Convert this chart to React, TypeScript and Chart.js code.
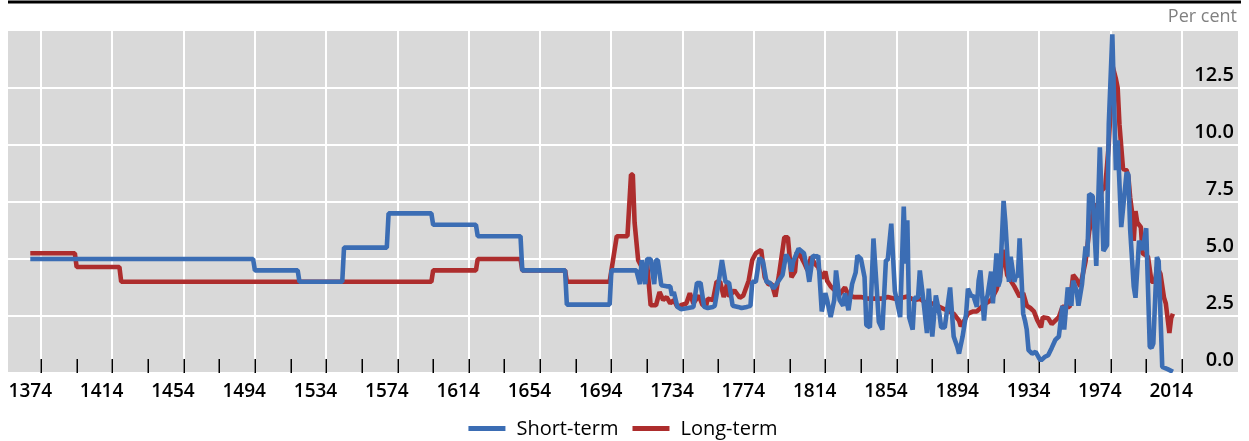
import React, { useEffect, useRef } from "react";
import { Chart, registerables } from "chart.js";

Chart.register(...registerables);

// ---------- Data ----------
const seriesLabels = ["Short-term", "Long-term"];
const unitLabel = "Per cent";

const shortYears = [
  1374, 1499, 1500, 1524, 1525, 1549, 1550, 1574, 1575, 1599,
  1600, 1624, 1625, 1649, 1650, 1674, 1675, 1699, 1700, 1714,
  1716, 1717, 1719, 1720, 1722, 1724, 1725, 1726, 1728, 1731,
  1733, 1734, 1735, 1737, 1739, 1743, 1746, 1748, 1750, 1752,
  1754, 1757, 1758, 1760, 1762, 1764, 1766, 1768, 1771, 1773,
  1776, 1778, 1779, 1781, 1783, 1785, 1787, 1789, 1791, 1793,
  1796, 1798, 1800, 1801, 1802, 1805, 1808, 1810, 1811, 1813,
  1815, 1816, 1818, 1820, 1821, 1823, 1825, 1826, 1828, 1830,
  1831, 1833, 1835, 1837, 1838, 1840, 1842, 1843, 1845, 1847,
  1849, 1850, 1852, 1854, 1855, 1857, 1859, 1862, 1864, 1865,
  1866, 1867, 1869, 1870, 1872, 1873, 1875, 1877, 1878, 1880,
  1882, 1884, 1885, 1887, 1890, 1892, 1894, 1895, 1897, 1899,
  1900, 1902, 1903, 1905, 1906, 1907, 1909, 1910, 1911, 1913,
  1914, 1916, 1917, 1918, 1920, 1921, 1923, 1924, 1926, 1927,
  1928, 1929, 1931, 1932, 1933, 1934, 1936, 1938, 1940, 1941,
  1943, 1945, 1947, 1949, 1951, 1953, 1954, 1956, 1958, 1959,
  1961, 1962, 1964, 1966, 1967, 1968, 1970, 1972, 1974, 1976,
  1978, 1979, 1981, 1983, 1984, 1986, 1989, 1990, 1991, 1993,
  1994, 1996, 1998, 2000, 2002, 2003, 2004, 2006, 2007, 2009,
  2012, 2015,
];
const shortRates = [
  5.0, 5.0, 4.5, 4.5, 4.0, 4.0, 5.5, 5.5, 7.0, 7.0,
  6.5, 6.5, 6.0, 6.0, 4.5, 4.5, 3.0, 3.0, 4.5, 4.5,
  3.9, 4.95, 3.9, 5.0, 5.0, 3.9, 4.95, 4.95, 3.85, 3.8,
  3.8, 3.4, 3.55, 2.9, 2.8, 2.85, 2.9, 3.95, 3.95, 2.9,
  2.85, 2.9, 2.95, 3.9, 4.95, 4.0, 3.95, 2.95, 2.9, 2.85,
  2.9, 2.95, 4.0, 4.0, 5.05, 4.9, 4.0, 3.95, 3.7, 3.95,
  4.3, 5.2, 4.9, 4.45, 4.9, 5.45, 5.25, 4.5, 4.0, 5.15,
  5.1, 5.15, 2.7, 3.5, 3.2, 2.45, 3.2, 4.5, 3.2, 2.95,
  3.5, 2.75, 3.9, 4.4, 5.15, 5.0, 4.2, 2.1, 2.0, 5.9,
  3.5, 2.25, 1.9, 4.95, 4.95, 6.55, 3.6, 2.45, 7.3, 4.8,
  6.7, 2.45, 1.9, 3.3, 3.3, 4.5, 3.2, 1.75, 3.7, 1.6,
  3.4, 2.6, 2.0, 2.0, 3.75, 1.6, 1.15, 0.85, 1.6, 2.6,
  3.7, 3.35, 3.4, 2.9, 4.05, 4.5, 2.3, 3.2, 3.4, 4.45,
  3.05, 5.25, 3.8, 4.05, 7.55, 6.6, 4.0, 5.1, 4.0, 4.3,
  4.2, 5.9, 2.6, 2.3, 1.9, 1.0, 0.85, 0.93, 0.64, 0.55,
  0.7, 0.78, 1.1, 1.45, 1.6, 2.95, 1.9, 3.75, 2.95, 4.05,
  3.6, 2.95, 3.9, 5.55, 5.1, 7.85, 7.75, 4.7, 9.9, 5.35,
  5.6, 10.9, 14.85, 8.9, 10.2, 6.4, 8.8, 8.7, 6.3, 3.8,
  3.3, 5.8, 5.4, 6.35, 1.15, 1.1, 1.3, 5.08, 4.9, 0.27,
  0.17, 0.05,
];

const longYears = [
  1374, 1399, 1400, 1424, 1425, 1599, 1600, 1624, 1625, 1649,
  1650, 1674, 1675, 1699, 1703, 1709, 1711, 1712, 1713, 1715,
  1718, 1720, 1722, 1725, 1727, 1729, 1731, 1733, 1735, 1737,
  1739, 1742, 1744, 1746, 1749, 1751, 1753, 1754, 1757, 1759,
  1761, 1763, 1765, 1766, 1769, 1772, 1774, 1777, 1779, 1781,
  1784, 1786, 1788, 1790, 1792, 1794, 1797, 1799, 1801, 1803,
  1804, 1806, 1808, 1810, 1812, 1814, 1816, 1818, 1820, 1821,
  1823, 1825, 1828, 1831, 1833, 1836, 1840, 1844, 1848, 1852,
  1855, 1859, 1863, 1866, 1870, 1873, 1876, 1880, 1884, 1888,
  1892, 1895, 1896, 1898, 1900, 1903, 1905, 1909, 1913, 1916,
  1918, 1920, 1922, 1926, 1929, 1931, 1933, 1935, 1937, 1939,
  1941, 1942, 1945, 1947, 1949, 1951, 1953, 1957, 1959, 1961,
  1963, 1966, 1968, 1971, 1973, 1975, 1977, 1979, 1980, 1981,
  1983, 1984, 1985, 1987, 1989, 1990, 1991, 1992, 1993, 1994,
  1995, 1997, 1998, 2001, 2003, 2005, 2006, 2008, 2010, 2011,
  2013, 2014, 2015,
];
const longRates = [
  5.25, 5.25, 4.65, 4.65, 4.0, 4.0, 4.5, 4.5, 5.0, 5.0,
  4.5, 4.5, 4.0, 4.0, 6.0, 6.0, 8.7, 8.7, 6.6, 4.95,
  4.5, 4.8, 2.97, 2.97, 3.55, 3.2, 3.33, 3.05, 3.2, 2.9,
  2.97, 3.05, 3.5, 3.05, 3.4, 3.0, 2.9, 3.26, 3.2, 4.0,
  4.0, 3.33, 3.95, 3.35, 3.63, 3.3, 3.4, 4.05, 4.95, 5.25,
  5.4, 4.2, 3.9, 3.9, 3.35, 4.3, 5.95, 5.95, 4.2, 4.45,
  5.3, 5.15, 4.85, 4.5, 5.1, 4.8, 4.65, 4.15, 4.45, 4.05,
  3.8, 3.65, 3.45, 3.75, 3.4, 3.33, 3.33, 3.26, 3.26, 3.26,
  3.33, 3.26, 3.3, 3.35, 3.2, 3.25, 3.1, 3.05, 2.9, 2.75,
  2.6, 2.3, 2.05, 2.3, 2.6, 2.7, 2.7, 3.0, 3.2, 3.65,
  4.2, 5.4, 4.3, 3.8, 3.35, 3.5, 2.95, 2.85, 2.7, 2.3,
  2.0, 2.45, 2.4, 2.15, 2.3, 2.45, 2.9, 2.9, 4.3, 4.1,
  3.8, 4.9, 6.2, 7.4, 7.2, 8.0, 8.15, 10.0, 11.6, 13.5,
  12.9, 12.5, 10.9, 8.95, 8.9, 8.6, 7.7, 7.1, 5.8, 7.1,
  6.6, 6.4, 5.25, 5.1, 4.0, 4.0, 4.65, 4.35, 3.3, 3.05,
  1.75, 2.4, 2.6,
];

const xTickYears = [1374, 1414, 1454, 1494, 1534, 1574, 1614, 1654, 1694, 1734, 1774, 1814, 1854, 1894, 1934, 1974, 2014];
const yTickValues = [0, 2.5, 5, 7.5, 10, 12.5];

// ---------- Chart ----------
const W = 1249;
const H = 441;
const BLUE = "#3b6db4";
const RED = "#ad2d2d";
const FONT = "'Open Sans', 'Noto Sans', sans-serif";

export default function App() {
  const canvasRef = useRef<HTMLCanvasElement | null>(null);

  useEffect(() => {
    const canvas = canvasRef.current;
    if (!canvas) return;

    const toPoints = (xs: number[], ys: number[]) => xs.map((x, i) => ({ x, y: ys[i] }));

    const decor = {
      id: "decor",
      beforeDraw(chart: any) {
        const { ctx, chartArea: a } = chart;
        const xs = chart.scales.x;
        ctx.save();
        ctx.fillStyle = "#ffffff";
        ctx.fillRect(0, 0, W, H);
        ctx.fillStyle = "#d9d9d9";
        ctx.fillRect(a.left, a.top, a.right - a.left, a.bottom - a.top);
        ctx.fillStyle = "#000000";
        ctx.fillRect(8, 0.5, W - 16, 3);
        ctx.strokeStyle = "#ffffff";
        ctx.lineWidth = 2;
        for (let yr = 1380; yr <= 2020; yr += 40) {
          const px = Math.round(xs.getPixelForValue(yr));
          ctx.beginPath();
          ctx.moveTo(px, a.top);
          ctx.lineTo(px, a.bottom);
          ctx.stroke();
        }
        ctx.restore();
      },
      beforeDatasetsDraw(chart: any) {
        const { ctx, chartArea: a } = chart;
        const xs = chart.scales.x;
        ctx.save();
        ctx.strokeStyle = "#000000";
        ctx.lineWidth = 1.5;
        for (let yr = 1380; yr <= 2020; yr += 20) {
          const px = Math.round(xs.getPixelForValue(yr)) + 0.25;
          ctx.beginPath();
          ctx.moveTo(px, a.bottom - 14);
          ctx.lineTo(px, a.bottom);
          ctx.stroke();
        }
        ctx.restore();
      },
      afterDraw(chart: any) {
        const { ctx, chartArea: a } = chart;
        ctx.save();
        // unit label
        ctx.fillStyle = "#808080";
        ctx.font = `18px ${FONT}`;
        ctx.textAlign = "right";
        ctx.textBaseline = "middle";
        ctx.fillText(unitLabel, a.right - 1, 17);
        // legend
        ctx.font = `20px ${FONT}`;
        ctx.textAlign = "left";
        ctx.textBaseline = "alphabetic";
        const sw = 37;
        const gapText = 11;
        const gapItem = 14;
        const items = chart.data.datasets.map((d: any) => ({
          label: d.label,
          color: d.borderColor,
          w: ctx.measureText(d.label).width,
        }));
        const total =
          items.reduce((s: number, it: any) => s + sw + gapText + it.w, 0) + gapItem * (items.length - 1);
        let x = (a.left + a.right) / 2 - total / 2;
        const yLine = 428.5;
        for (const it of items) {
          ctx.strokeStyle = it.color;
          ctx.lineWidth = 5;
          ctx.beginPath();
          ctx.moveTo(x, yLine);
          ctx.lineTo(x + sw, yLine);
          ctx.stroke();
          ctx.fillStyle = "#000000";
          ctx.fillText(it.label, x + sw + gapText, 435);
          x += sw + gapText + it.w + gapItem;
        }
        ctx.restore();
      },
    };

    const chart = new Chart(canvas, {
      type: "line",
      data: {
        datasets: [
          {
            label: seriesLabels[0],
            data: toPoints(shortYears, shortRates),
            borderColor: BLUE,
            backgroundColor: BLUE,
            borderWidth: 4.6,
            pointRadius: 0,
            tension: 0,
            borderJoinStyle: "bevel",
            fill: false,
          },
          {
            label: seriesLabels[1],
            data: toPoints(longYears, longRates),
            borderColor: RED,
            backgroundColor: RED,
            borderWidth: 4.6,
            pointRadius: 0,
            tension: 0,
            borderJoinStyle: "bevel",
            fill: false,
          },
        ],
      },
      options: {
        animation: false,
        responsive: false,
        devicePixelRatio: 1,
        events: [],
        layout: { padding: { top: 31, left: 8, right: 0, bottom: 0 } },
        plugins: {
          legend: { display: false },
          tooltip: { enabled: false },
          title: { display: false },
        },
        scales: {
          x: {
            type: "linear",
            position: "bottom",
            min: 1361.5,
            max: 2051.5,
            afterBuildTicks: (s: any) => {
              s.ticks = xTickYears.map((v) => ({ value: v }));
            },
            afterFit: (s: any) => {
              s.height = H - 373;
            },
            grid: { display: false, drawTicks: false },
            border: { display: false },
            ticks: {
              autoSkip: false,
              maxRotation: 0,
              padding: 7,
              color: "#000000",
              font: { family: FONT, size: 19, weight: "600" },
              callback: (v: any) => String(v),
            },
          },
          y: {
            type: "linear",
            position: "right",
            min: 0,
            max: 15,
            afterBuildTicks: (s: any) => {
              s.ticks = yTickValues.map((v) => ({ value: v }));
            },
            afterFit: (s: any) => {
              s.width = 11;
            },
            grid: { color: "#ffffff", lineWidth: 2, drawTicks: false },
            border: { display: false },
            ticks: {
              mirror: true,
              padding: -4,
              labelOffset: -13,
              color: "#000000",
              font: { family: FONT, size: 20, weight: "600" },
              callback: (v: any) => Number(v).toFixed(1),
            },
          },
        },
      },
      plugins: [decor],
    });

    return () => chart.destroy();
  }, []);

  return (
    <div style={{ position: "absolute", left: 0, top: 0, width: W, height: H }}>
      <canvas ref={canvasRef} width={W} height={H} style={{ width: W, height: H, display: "block" }} />
    </div>
  );
}
